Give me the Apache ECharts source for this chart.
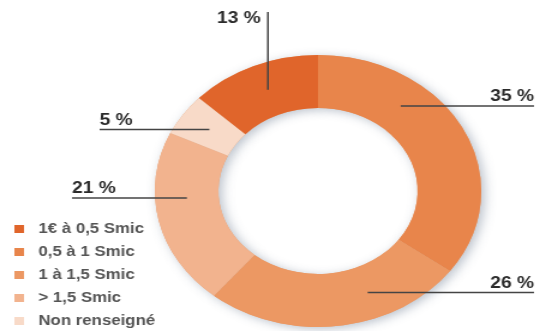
<!DOCTYPE html>
<html>
<head>
<meta charset="utf-8">
<script src="https://cdn.jsdelivr.net/npm/echarts@6/dist/echarts.min.js"></script>
<style>
  html, body { margin: 0; padding: 0; background: #fff; overflow: hidden; }
  /* the chart is laid out narrow and widened, giving the oval ring */
  #chart { width: 452px; height: 331px; transform: scaleX(1.2); transform-origin: 0 0; }
</style>
</head>
<body>
<div id="chart"></div>
<script>
// Slices, clockwise from 12 o'clock
const categories = ['0,5 à 1 Smic', '1 à 1,5 Smic', '> 1,5 Smic', 'Non renseigné', '1€ à 0,5 Smic'];
const values = [35, 26, 21, 5, 13];
const sliceColors = ['#e8854b', '#ec9863', '#f2b38e', '#f8dac8', '#e0652b'];
// Legend order
const legendOrder = ['1€ à 0,5 Smic', '0,5 à 1 Smic', '1 à 1,5 Smic', '> 1,5 Smic', 'Non renseigné'];

// Ring geometry (chart pixels, before widening)
const CX = 265, CY = 191, R_IN = 83, R_OUT = 136;
const R_ANCHOR = (R_IN + R_OUT) / 2;

// Leader lines: angular nudge of the anchor (deg), direction, and where the line stops
const leaders = [
  { turn: -24, side: 'right', reach: 445 },
  { turn: -15, side: 'right', reach: 445 },
  { turn: 9, side: 'left', reach: 60 },
  { turn: 0, side: 'left', reach: 83 },
  { turn: 1, side: 'up', reach: 12 }
];

const sliceData = categories.map((name, i) => ({ name: name, value: values[i] }));

const ring = {
  type: 'pie',
  center: [CX, CY],
  radius: [R_IN, R_OUT],
  startAngle: 90,
  clockwise: true,
  silent: true,
  data: sliceData
};

const chart = echarts.init(document.getElementById('chart'), null, { renderer: 'canvas' });

chart.setOption({
  animation: false,
  backgroundColor: '#ffffff',
  color: sliceColors,
  legend: {
    orient: 'vertical',
    left: 12,
    top: 222,
    padding: 0,
    icon: 'rect',
    itemWidth: 8,
    itemHeight: 8,
    itemGap: 9,
    data: legendOrder,
    selectedMode: false,
    textStyle: {
      fontFamily: 'Liberation Sans, Arial, sans-serif',
      fontSize: 14,
      fontWeight: 'bold',
      color: '#555555',
      lineHeight: 14,
      padding: [0, 0, 0, 7]
    }
  },
  series: [
    Object.assign({}, ring, {
      // the coloured ring
      z: 3,
      itemStyle: { borderWidth: 0 },
      label: { show: false },
      labelLine: { show: false }
    }),
    Object.assign({}, ring, {
      // soft drop shadow under the ring
      z: 1,
      itemStyle: {
        color: '#e8a070',
        borderWidth: 0,
        shadowBlur: 10,
        shadowColor: 'rgba(60,80,110,0.35)',
        shadowOffsetX: 3,
        shadowOffsetY: 2
      },
      label: { show: false },
      labelLine: { show: false }
    }),
    Object.assign({}, ring, {
      // transparent copy carrying the value labels and leader lines on top
      z: 5,
      avoidLabelOverlap: false,
      itemStyle: { color: 'rgba(0,0,0,0)', borderWidth: 0 },
      label: {
        show: true,
        formatter: '{c} %',
        fontFamily: 'Liberation Sans, Arial, sans-serif',
        fontSize: 16,
        fontWeight: 'bold',
        color: '#2b2b2b'
      },
      labelLine: {
        show: true,
        showAbove: true,
        length: 4,
        length2: 4,
        lineStyle: { color: '#444444', width: 1.5 }
      },
      labelLayout: function (params) {
        const lead = leaders[params.dataIndex];
        const p0 = params.labelLinePoints[0];
        const a = Math.atan2(p0[1] - CY, p0[0] - CX) + lead.turn * Math.PI / 180;
        const ax = CX + R_ANCHOR * Math.cos(a);
        const ay = CY + R_ANCHOR * Math.sin(a);
        if (lead.side === 'up') {
          return {
            x: ax - 6, y: lead.reach - 1, align: 'right', verticalAlign: 'top',
            labelLinePoints: [[ax, ay], [ax, lead.reach], [ax, lead.reach]]
          };
        }
        return {
          x: lead.reach, y: ay - 1, align: lead.side, verticalAlign: 'bottom',
          labelLinePoints: [[ax, ay], [lead.reach, ay], [lead.reach, ay]]
        };
      }
    })
  ]
});
</script>
</body>
</html>
